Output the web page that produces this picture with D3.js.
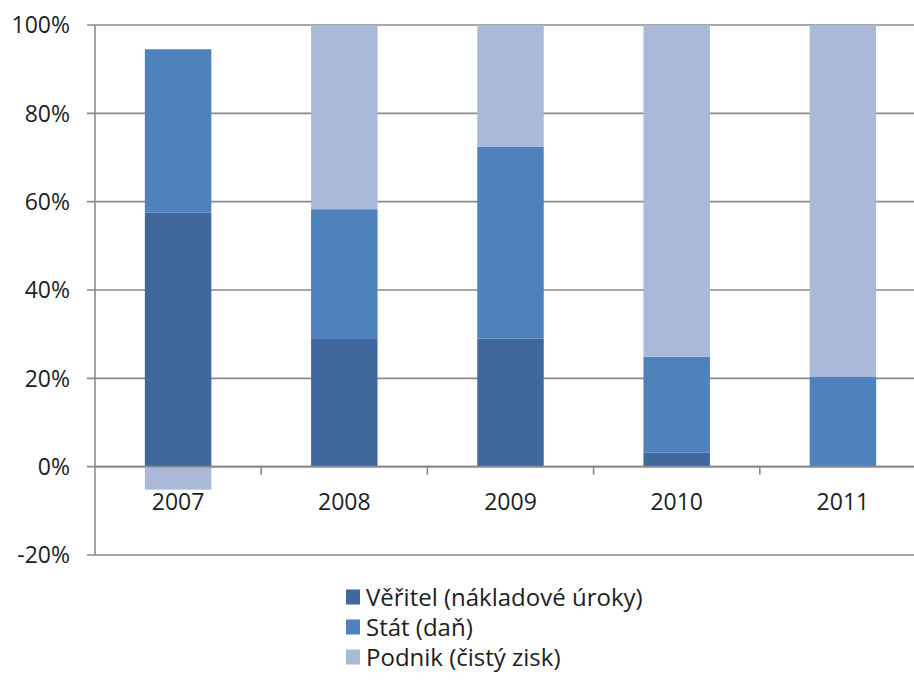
<!DOCTYPE html>
<html>
<head>
<meta charset="utf-8">
<script src="https://cdn.jsdelivr.net/npm/d3@7"></script>
<style>
  html, body { margin: 0; padding: 0; background: #fff; }
  svg { display: block; }
  text { font-family: "Open Sans", "Noto Sans", sans-serif; fill: #1e1e1e; }
</style>
</head>
<body>
<svg id="chart" width="914" height="682"></svg>
<script>
// Shares of operating result by recipient, per year (percent)
const years = ["2007", "2008", "2009", "2010", "2011"];
const seriesNames = ["Věřitel (nákladové úroky)", "Stát (daň)", "Podnik (čistý zisk)"];
const veritel = [57.5, 28.9, 29.0, 3.2, 0];
const stat = [37.0, 29.4, 43.4, 21.7, 20.3];
const podnik = [-5.2, 41.7, 27.6, 75.1, 79.7];
const yTicks = [-20, 0, 20, 40, 60, 80, 100];
const colors = ["#41689C", "#4F81BD", "#AAB9D8"];

const svg = d3.select("#chart");
const plotLeft = 95, plotRight = 926, plotTop = 25, plotBottom = 555;

const x = d3.scaleBand().domain(years).range([plotLeft, plotRight])
  .paddingInner(0.6).paddingOuter(0.3);
const y = d3.scaleLinear().domain([-20, 100]).range([plotBottom, plotTop]);

// gridlines
const gridColor = "#8a8a8a";
svg.append("g").selectAll("line").data(yTicks).join("line")
  .attr("x1", plotLeft - 8).attr("x2", plotRight)
  .attr("y1", d => y(d)).attr("y2", d => y(d))
  .attr("stroke", gridColor).attr("stroke-width", 1.6);

// y axis labels
svg.append("g").selectAll("text").data(yTicks).join("text")
  .attr("x", 70).attr("y", d => y(d)).attr("dy", "0.36em")
  .attr("text-anchor", "end").attr("font-size", 23)
  .text(d => d + "%");

// stacked segments: positives stack upward from 0, negatives downward
const seriesVals = [veritel, stat, podnik];
const segs = [];
years.forEach((yr, i) => {
  let pos = 0, neg = 0;
  seriesVals.forEach((vals, s) => {
    const v = vals[i];
    if (v >= 0) { segs.push({ yr, s, y0: pos, y1: pos + v }); pos += v; }
    else { segs.push({ yr, s, y0: neg + v, y1: neg }); neg += v; }
  });
});

svg.append("g").selectAll("rect").data(segs).join("rect")
  .attr("x", d => x(d.yr))
  .attr("width", x.bandwidth())
  .attr("y", d => y(d.y1))
  .attr("height", d => y(d.y0) - y(d.y1))
  .attr("fill", d => colors[d.s]);

// y axis line
svg.append("line")
  .attr("x1", plotLeft).attr("x2", plotLeft).attr("y1", plotTop).attr("y2", plotBottom)
  .attr("stroke", gridColor).attr("stroke-width", 1.6);

// x axis at zero with category separators
const zeroY = y(0);
svg.append("line")
  .attr("x1", plotLeft).attr("x2", plotRight).attr("y1", zeroY).attr("y2", zeroY)
  .attr("stroke", gridColor).attr("stroke-width", 1.6);
svg.append("g").selectAll("line").data(years.slice(1)).join("line")
  .attr("x1", d => x(d) - x.step() * x.paddingInner() / 2)
  .attr("x2", d => x(d) - x.step() * x.paddingInner() / 2)
  .attr("y1", zeroY).attr("y2", zeroY + 8)
  .attr("stroke", gridColor).attr("stroke-width", 1.6);

// year labels
svg.append("g").selectAll("text").data(years).join("text")
  .attr("x", d => x(d) + x.bandwidth() / 2)
  .attr("y", 510)
  .attr("text-anchor", "middle").attr("font-size", 23)
  .text(d => d);

// legend
const lg = svg.append("g");
seriesNames.forEach((name, i) => {
  const cy = 597 + i * 30;
  lg.append("rect").attr("x", 346).attr("y", cy - 7.5)
    .attr("width", 14).attr("height", 15).attr("fill", colors[i]);
  lg.append("text").attr("x", 366).attr("y", cy).attr("dy", "0.36em")
    .attr("font-size", 24).text(name);
});
</script>
</body>
</html>
